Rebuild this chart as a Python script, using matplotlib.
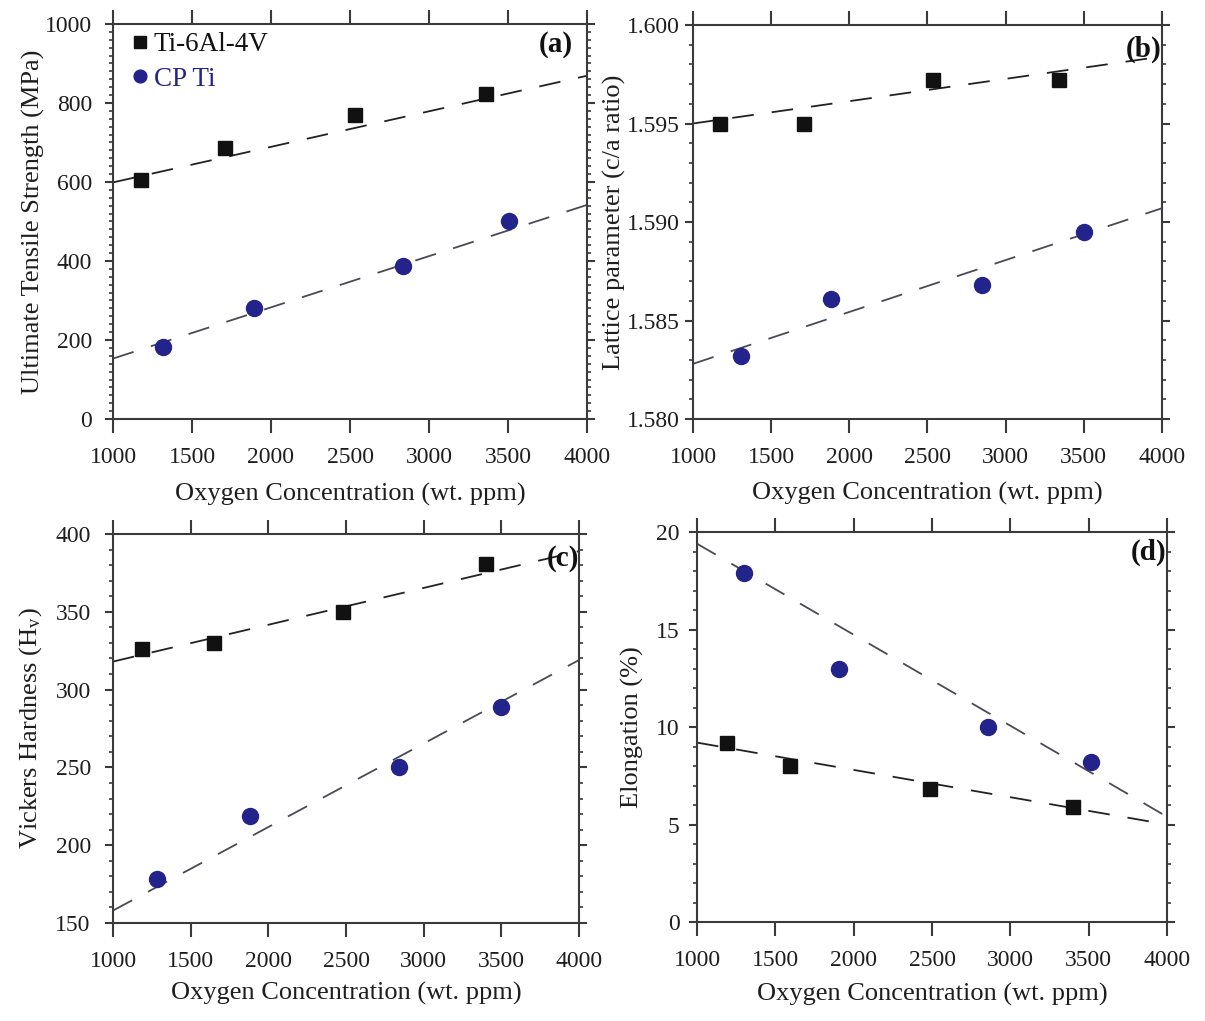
import matplotlib
matplotlib.use("Agg")
import matplotlib.pyplot as plt
from matplotlib.ticker import MultipleLocator, FormatStrFormatter

plt.rcParams['font.family'] = ['Liberation Serif', 'DejaVu Serif']
plt.rcParams['mathtext.fontset'] = 'stix'

# Oxygen content (wt. ppm) and measured properties
ti64_o_a = [1175, 1706, 2533, 3360]
ti64_uts = [606, 685, 770, 822]
cpti_o_a = [1316, 1895, 2837, 3506]
cpti_uts = [182, 280, 388, 500]

ti64_o_b = [1174, 1707, 2537, 3343]
ti64_ca = [1.5950, 1.5950, 1.5972, 1.5972]
cpti_o_b = [1310, 1880, 2850, 3504]
cpti_ca = [1.5832, 1.5861, 1.5868, 1.5895]

ti64_o_c = [1185, 1647, 2481, 3400]
ti64_hv = [326, 330, 350, 381]
cpti_o_c = [1284, 1881, 2844, 3499]
cpti_hv = [178, 219, 250, 289]

ti64_o_d = [1192, 1594, 2485, 3397]
ti64_el = [9.2, 8.0, 6.8, 5.9]
cpti_o_d = [1298, 1906, 2860, 3512]
cpti_el = [17.9, 13.0, 10.0, 8.2]

# Linear trend lines, given by their values at the ends of the range
trend_x = [1000, 4000]
ti64_uts_fit = [599, 869]
cpti_uts_fit = [153, 542]
ti64_ca_fit = [1.5950, 1.5984]
cpti_ca_fit = [1.5828, 1.5907]
ti64_hv_fit = [318, 389]
cpti_hv_fit = [158, 319]
ti64_el_fit = [9.2, 5.0]
cpti_el_fit = [19.4, 5.4]

x_ticks = [1000, 1500, 2000, 2500, 3000, 3500, 4000]

BLUE = '#23238c'
INK = '#111111'
SPINE = '#3a3a3a'
TXT = '#1e1e1e'

W, H = 1205, 1021
fig = plt.figure(figsize=(W / 100, H / 100), dpi=100)


def box(x0, x1, y0, y1):
    return [x0 / W, 1 - y1 / H, (x1 - x0) / W, (y1 - y0) / H]


panels = [
    dict(rect=box(113, 587, 24, 419), tag='(a)', tag_xy=(0.970, 0.947), ypad=9,
         ylab_x=-0.167, xlab_y=-0.19,
         ylabel='Ultimate Tensile Strength (MPa)', ylim=(0, 1000), major=200, minor=20, fmt='%d',
         ti=(ti64_o_a, ti64_uts, ti64_uts_fit), cp=(cpti_o_a, cpti_uts, cpti_uts_fit)),
    dict(rect=box(693, 1162, 25, 419), tag='(b)', tag_xy=(1.0, 0.937), ypad=3.5,
         ylab_x=-0.168, xlab_y=-0.188,
         ylabel='Lattice parameter (c/a ratio)', ylim=(1.580, 1.600), major=0.005, minor=0.001, fmt='%.3f',
         ti=(ti64_o_b, ti64_ca, ti64_ca_fit), cp=(cpti_o_b, cpti_ca, cpti_ca_fit)),
    dict(rect=box(113, 579, 534, 923), tag='(c)', tag_xy=(1.0, 0.938), ypad=10,
         ylab_x=-0.176, xlab_y=-0.18,
         ylabel='Vickers Hardness (H$_{\\mathregular{v}}$)', ylim=(150, 400), major=50, minor=10, fmt='%d',
         ti=(ti64_o_c, ti64_hv, ti64_hv_fit), cp=(cpti_o_c, cpti_hv, cpti_hv_fit)),
    dict(rect=box(697, 1167, 532, 922), tag='(d)', tag_xy=(0.998, 0.949), ypad=6.5,
         ylab_x=-0.138, xlab_y=-0.185,
         ylabel='Elongation (%)', ylim=(0, 20), major=5, minor=1, fmt='%d',
         ti=(ti64_o_d, ti64_el, ti64_el_fit), cp=(cpti_o_d, cpti_el, cpti_el_fit)),
]

for i, p in enumerate(panels):
    ax = fig.add_axes(p['rect'])
    tx, ty, tfit = p['ti']
    cx, cy, cfit = p['cp']
    ax.plot(trend_x, tfit, color='#222222', lw=1.3, ls=(0, (12, 10)), zorder=2)
    ax.plot(trend_x, cfit, color='#4a4a55', lw=1.3, ls=(0, (12, 10)), zorder=2)
    ax.plot(tx, ty, ls='none', marker='s', ms=10.5, color=INK, label='Ti-6Al-4V', zorder=3)
    ax.plot(cx, cy, ls='none', marker='o', ms=11.5, color=BLUE, label='CP Ti', zorder=3)

    ax.set_xlim(1000, 4000)
    ax.set_ylim(*p['ylim'])
    ax.set_xticks(x_ticks)
    ax.yaxis.set_major_locator(MultipleLocator(p['major']))
    ax.yaxis.set_minor_locator(MultipleLocator(p['minor']))
    ax.yaxis.set_major_formatter(FormatStrFormatter(p['fmt']))

    for s in ax.spines.values():
        s.set_color(SPINE)
        s.set_linewidth(1.5)
    ax.tick_params(axis='x', which='major', direction='out', length=10, width=1.5,
                   color=SPINE, top=True, bottom=True, labelsize=17, pad=10, labelcolor=TXT)
    ax.tick_params(axis='y', which='major', direction='out', length=6, width=1.5,
                   color=SPINE, left=True, right=True, labelsize=17, pad=p['ypad'], labelcolor=TXT)
    ax.tick_params(axis='y', which='minor', direction='out', length=3, width=1.2,
                   color=SPINE, left=True, right=True)

    ax.set_xlabel('Oxygen Concentration (wt. ppm)', fontsize=19, color=TXT)
    ax.set_ylabel(p['ylabel'], fontsize=19, color=TXT)
    ax.xaxis.set_label_coords(0.5, p['xlab_y'])
    ax.yaxis.set_label_coords(p['ylab_x'], 0.5)
    ax.xaxis.label.set_va('center')
    ax.yaxis.label.set_va('center')

    ax.text(p['tag_xy'][0], p['tag_xy'][1], p['tag'], transform=ax.transAxes,
            ha='right', va='center', fontsize=21, fontweight='bold', color='#111111')

    if i == 0:
        leg = ax.legend(loc='upper left', frameon=False, fontsize=19.5, handletextpad=0.2,
                        borderaxespad=0.0, borderpad=0.3, labelspacing=0.35, markerscale=0.8,
                        handlelength=0.6, bbox_to_anchor=(0.023, 1.0))
        for t, c in zip(leg.get_texts(), [INK, BLUE]):
            t.set_color(c)

fig.savefig('out.png', dpi=100)
